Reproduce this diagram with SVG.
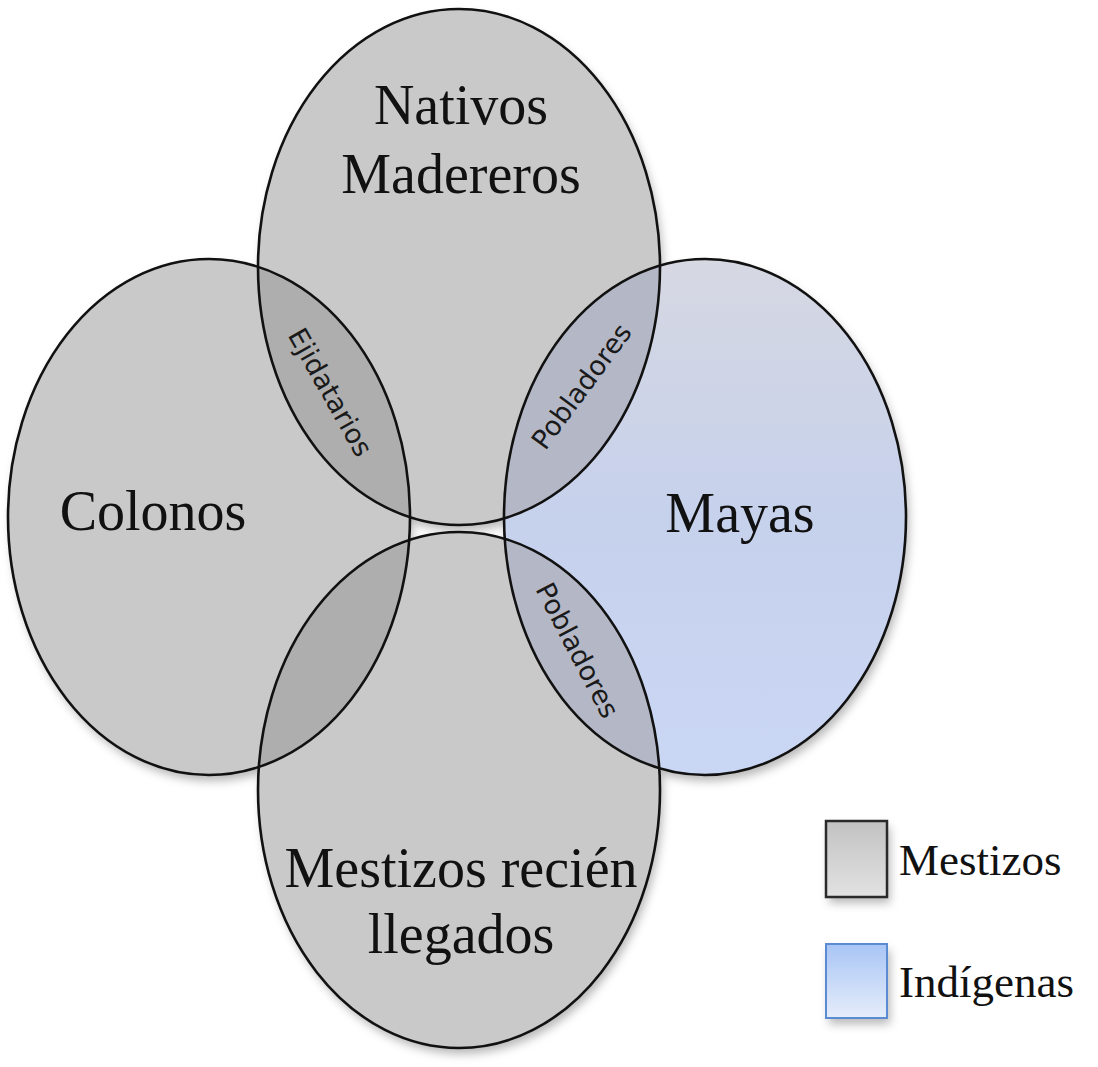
<svg xmlns="http://www.w3.org/2000/svg" xmlns:xlink="http://www.w3.org/1999/xlink" width="1098" height="1067" viewBox="0 0 1098 1067">
<style>
.big{font-family:"Liberation Serif","Times New Roman",serif;font-size:56px;fill:#111;text-anchor:middle}
.small{font-family:"DejaVu Sans","Liberation Sans",sans-serif;font-size:27px;fill:#1a1a1a;text-anchor:middle}
.leg{font-family:"Liberation Serif","Times New Roman",serif;font-size:45px;fill:#111}
.gray{fill:#c9c9c9}
.blue{fill:url(#gBlue)}
.lensG{fill:#aeaeae}
.lensB{fill:#b4b8c6}
.outline{fill:none;stroke:#111;stroke-width:2.6}
</style>
<defs>
<ellipse id="shTop" cx="459" cy="267" rx="201" ry="258"/>
<ellipse id="shLeft" cx="209" cy="517" rx="201" ry="258"/>
<ellipse id="shRight" cx="705" cy="517" rx="201" ry="258"/>
<ellipse id="shBottom" cx="459" cy="790" rx="201" ry="258"/>
<clipPath id="cTop"><use xlink:href="#shTop"/></clipPath>
<clipPath id="cBottom"><use xlink:href="#shBottom"/></clipPath>
<linearGradient id="gBlue" x1="0" y1="0" x2="0" y2="1">
<stop offset="0" stop-color="#d6d8e2"/>
<stop offset="0.5" stop-color="#c6d1ec"/>
<stop offset="1" stop-color="#cad7f4"/>
</linearGradient>
<linearGradient id="gLegGray" x1="0" y1="0" x2="0" y2="1">
<stop offset="0" stop-color="#c2c2c2"/>
<stop offset="1" stop-color="#e2e2e2"/>
</linearGradient>
<linearGradient id="gLegBlue" x1="0" y1="0" x2="0" y2="1">
<stop offset="0" stop-color="#a8c5f5"/>
<stop offset="1" stop-color="#e6edfa"/>
</linearGradient>
<filter id="shadow" x="-10%" y="-10%" width="130%" height="130%">
<feGaussianBlur in="SourceAlpha" stdDeviation="5"/>
<feOffset dx="3" dy="6" result="b"/>
<feFlood flood-color="#000" flood-opacity="0.28"/>
<feComposite in2="b" operator="in"/>
</filter>
</defs>
<rect width="1098" height="1067" fill="#fff"/>
<g id="shadows" filter="url(#shadow)">
<use xlink:href="#shTop"/><use xlink:href="#shLeft"/><use xlink:href="#shRight"/><use xlink:href="#shBottom"/>
<rect x="826" y="821" width="61" height="76"/>
<rect x="826" y="944" width="61" height="74"/>
</g>
<g id="node-nativos">
<use xlink:href="#shTop" class="gray"/>
<text class="big" x="461" y="124">Nativos</text>
<text class="big" x="461" y="193">Madereros</text>
</g>
<g id="node-colonos">
<use xlink:href="#shLeft" class="gray"/>
<text class="big" x="153" y="530">Colonos</text>
</g>
<g id="node-mayas">
<use xlink:href="#shRight" class="blue"/>
<text class="big" x="740" y="532">Mayas</text>
</g>
<g id="node-mestizos">
<use xlink:href="#shBottom" class="gray"/>
<text class="big" x="461" y="887">Mestizos recién</text>
<text class="big" x="461" y="953">llegados</text>
</g>
<g id="overlaps">
<g clip-path="url(#cTop)"><use xlink:href="#shLeft" class="lensG"/><use xlink:href="#shRight" class="lensB"/></g>
<g clip-path="url(#cBottom)"><use xlink:href="#shLeft" class="lensG"/><use xlink:href="#shRight" class="lensB"/></g>
</g>
<g id="outlines">
<use xlink:href="#shTop" class="outline"/>
<use xlink:href="#shLeft" class="outline"/>
<use xlink:href="#shRight" class="outline"/>
<use xlink:href="#shBottom" class="outline"/>
</g>
<g id="overlap-labels">
<text class="small" transform="translate(331,392) rotate(60.5)" y="10">Ejidatarios</text>
<text class="small" transform="translate(581,386) rotate(-53.6)" y="10">Pobladores</text>
<text class="small" transform="translate(578,650) rotate(62.4)" y="10">Pobladores</text>
</g>
<g id="legend-mestizos">
<rect x="826" y="821" width="61" height="76" fill="url(#gLegGray)" stroke="#2a2a2a" stroke-width="2.5"/>
<text class="leg" x="899" y="875">Mestizos</text>
</g>
<g id="legend-indigenas">
<rect x="826" y="944" width="61" height="74" fill="url(#gLegBlue)" stroke="#5b8bd2" stroke-width="2"/>
<text class="leg" x="899" y="997">Indígenas</text>
</g>
</svg>
